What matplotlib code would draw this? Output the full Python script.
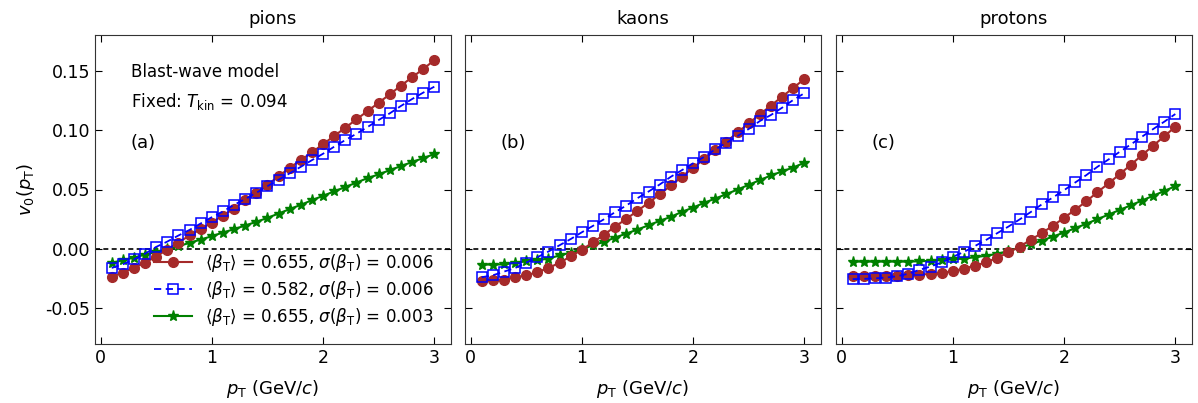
import numpy as np
import matplotlib
matplotlib.use("Agg")
import matplotlib.pyplot as plt

plt.rcParams['axes.unicode_minus'] = False
plt.rcParams['font.family'] = ['DejaVu Sans']
plt.rcParams['mathtext.fontset'] = 'dejavusans'

pt = [round(0.1 * i, 1) for i in range(1, 31)]

panels = ["pions", "kaons", "protons"]
panel_tags = ["(a)", "(b)", "(c)"]

labels = [r"$\langle\beta_{\rm T}\rangle$ = 0.655, $\sigma(\beta_{\rm T})$ = 0.006",
          r"$\langle\beta_{\rm T}\rangle$ = 0.582, $\sigma(\beta_{\rm T})$ = 0.006",
          r"$\langle\beta_{\rm T}\rangle$ = 0.655, $\sigma(\beta_{\rm T})$ = 0.003"]

# pions
pi_red = [-0.0236, -0.0199, -0.0160, -0.0115, -0.0064, -0.0005, 0.0054, 0.0113, 0.0166, 0.0222,
          0.0281, 0.0340, 0.0410, 0.0472, 0.0540, 0.0610, 0.0683, 0.0747, 0.0812, 0.0882,
          0.0950, 0.1020, 0.1090, 0.1160, 0.1230, 0.1301, 0.1374, 0.1444, 0.1514, 0.1588]
pi_blue = [-0.0160, -0.0130, -0.0088, -0.0040, 0.0017, 0.0062, 0.0113, 0.0160, 0.0214, 0.0267,
           0.0315, 0.0371, 0.0420, 0.0472, 0.0528, 0.0582, 0.0636, 0.0691, 0.0747, 0.0801,
           0.0860, 0.0916, 0.0969, 0.1026, 0.1085, 0.1141, 0.1203, 0.1261, 0.1315, 0.1365]
pi_green = [-0.0118, -0.0095, -0.0073, -0.0048, -0.0025, -0.0003, 0.0023, 0.0051, 0.0079, 0.0107,
            0.0138, 0.0166, 0.0197, 0.0228, 0.0261, 0.0298, 0.0335, 0.0371, 0.0410, 0.0447,
            0.0484, 0.0521, 0.0558, 0.0596, 0.0627, 0.0663, 0.0697, 0.0731, 0.0764, 0.0798]

# kaons
ka_red = [-0.0270, -0.0264, -0.0258, -0.0240, -0.0223, -0.0195, -0.0161, -0.0116, -0.0063, -0.0007,
          0.0055, 0.0120, 0.0188, 0.0253, 0.0320, 0.0389, 0.0459, 0.0534, 0.0607, 0.0683,
          0.0756, 0.0831, 0.0902, 0.0980, 0.1056, 0.1132, 0.1206, 0.1281, 0.1354, 0.1430]
ka_blue = [-0.0238, -0.0222, -0.0191, -0.0161, -0.0116, -0.0070, -0.0022, 0.0031, 0.0083, 0.0140,
           0.0194, 0.0250, 0.0310, 0.0365, 0.0427, 0.0483, 0.0542, 0.0607, 0.0663, 0.0720,
           0.0775, 0.0838, 0.0893, 0.0950, 0.1009, 0.1076, 0.1127, 0.1188, 0.1253, 0.1310]
ka_green = [-0.0132, -0.0132, -0.0130, -0.0118, -0.0104, -0.0096, -0.0081, -0.0055, -0.0031, -0.0003,
            0.0031, 0.0059, 0.0096, 0.0129, 0.0163, 0.0199, 0.0236, 0.0270, 0.0312, 0.0348,
            0.0388, 0.0424, 0.0461, 0.0500, 0.0539, 0.0579, 0.0618, 0.0652, 0.0685, 0.0725]

# protons
pr_red = [-0.0226, -0.0226, -0.0226, -0.0226, -0.0225, -0.0219, -0.0216, -0.0210, -0.0202, -0.0187,
          -0.0166, -0.0140, -0.0113, -0.0074, -0.0030, 0.0020, 0.0076, 0.0134, 0.0195, 0.0262,
          0.0330, 0.0400, 0.0478, 0.0551, 0.0629, 0.0708, 0.0789, 0.0868, 0.0947, 0.1028]
pr_blue = [-0.0254, -0.0252, -0.0248, -0.0241, -0.0230, -0.0209, -0.0176, -0.0148, -0.0114, -0.0067,
           -0.0025, 0.0025, 0.0076, 0.0133, 0.0188, 0.0248, 0.0310, 0.0375, 0.0433, 0.0494,
           0.0559, 0.0621, 0.0691, 0.0753, 0.0817, 0.0879, 0.0944, 0.1008, 0.1070, 0.1135]
pr_green = [-0.0107, -0.0107, -0.0107, -0.0107, -0.0107, -0.0107, -0.0104, -0.0100, -0.0094, -0.0088,
            -0.0081, -0.0070, -0.0057, -0.0042, -0.0017, 0.0010, 0.0038, 0.0070, 0.0104, 0.0138,
            0.0174, 0.0212, 0.0250, 0.0289, 0.0328, 0.0367, 0.0407, 0.0447, 0.0487, 0.0528]

data = [(pi_red, pi_blue, pi_green), (ka_red, ka_blue, ka_green), (pr_red, pr_blue, pr_green)]

fig = plt.figure(figsize=(11.98, 4.03), dpi=100)
W, H = 1198, 403
lefts = [95, 465, 836]
axw = 356
top, bot = 35, 344
axes = []
for i in range(3):
    ax = fig.add_axes([lefts[i] / W, 1 - bot / H, axw / W, (bot - top) / H])
    axes.append(ax)

for i, ax in enumerate(axes):
    red, blue, green = data[i]
    ax.axhline(0, color='black', ls='--', lw=1.2, dashes=(3, 2), zorder=1)
    ax.plot(pt, red, color='brown', marker='o', ms=7, lw=1.5, label=labels[0], zorder=3)
    ax.plot(pt, blue, color='blue', marker='s', ms=7, mfc='none', mew=1.1, lw=1.3, ls='--',
            dashes=(4, 2.5), label=labels[1], zorder=4)
    ax.plot(pt, green, color='green', marker='*', ms=8, lw=1.5, label=labels[2], zorder=2)
    ax.set_xlim(-0.05, 3.15)
    ax.set_ylim(-0.08, 0.18)
    ax.set_xticks([0, 1, 2, 3])
    ax.set_yticks([-0.05, 0.0, 0.05, 0.10, 0.15])
    ax.tick_params(direction='in', top=True, right=True, length=5, labelsize=12.5)
    ax.set_title(panels[i], fontsize=13, pad=8)
    ax.set_xlabel(r"$p_{\rm T}$ (GeV/$c$)", fontsize=13, labelpad=8)
    ax.text(0.1, 0.65, panel_tags[i], transform=ax.transAxes, fontsize=13, va='center', ha='left')
    if i == 0:
        ax.set_ylabel(r"$v_0(p_{\rm T})$", fontsize=13, labelpad=6)
        ax.yaxis.set_major_formatter(matplotlib.ticker.FormatStrFormatter('%.2f'))
    else:
        ax.set_yticklabels([])
    for s in ax.spines.values():
        s.set_color('#333333')

axes[0].text(0.1, 0.88, "Blast-wave model", transform=axes[0].transAxes, fontsize=12, va='center')
axes[0].text(0.1, 0.786, r"Fixed: $T_{\rm kin}$ = 0.094", transform=axes[0].transAxes, fontsize=12,
             va='center')
axes[0].legend(loc='lower right', bbox_to_anchor=(0.98, 0.02), frameon=False, fontsize=12,
               handlelength=2.3, labelspacing=0.3, borderaxespad=0.2, handletextpad=0.8)

fig.savefig("out.png", dpi=100)
